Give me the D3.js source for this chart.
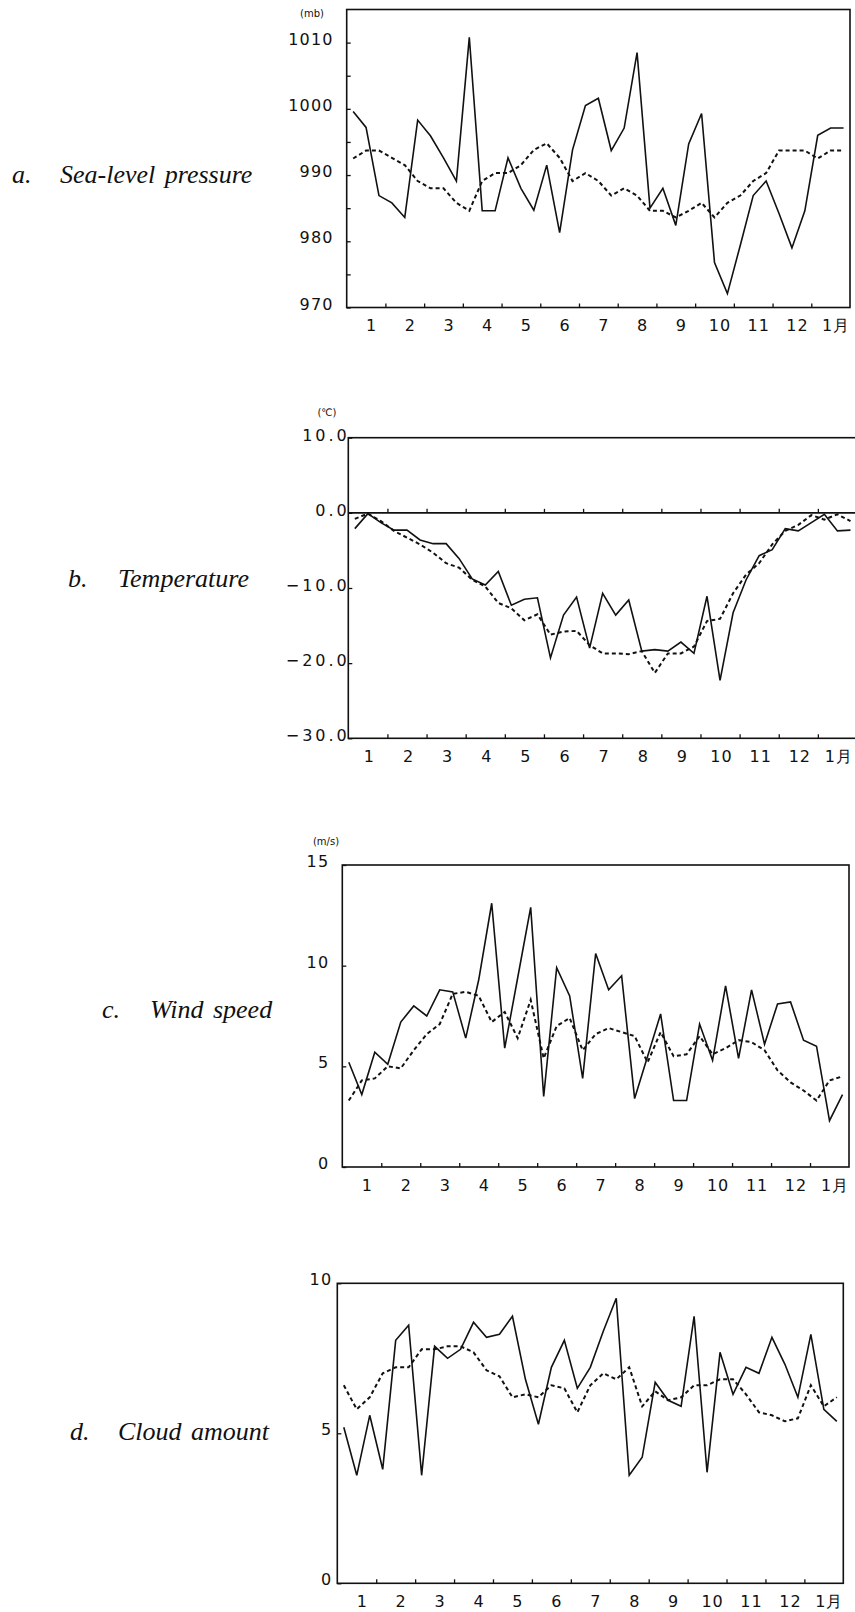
<!DOCTYPE html>
<html>
<head>
<meta charset="utf-8">
<script src="https://cdn.jsdelivr.net/npm/d3@7"></script>
<style>
  body { margin: 0; background: #fff; }
  .tick text { font-family: "DejaVu Sans", sans-serif; font-size: 16px; letter-spacing: 1.2px; fill: #111; }
  .temp .tick text { letter-spacing: 3px; }
  .title { font-family: "Liberation Serif", serif; font-style: italic; font-size: 26px; word-spacing: 3px; fill: #111; }
  .unit { font-family: "DejaVu Sans", sans-serif; font-size: 10px; fill: #111; }
</style>
</head>
<body>
<script>
// month labels on the x axis (13 months, 3 ten-day values per month)
var months = ["1", "2", "3", "4", "5", "6", "7", "8", "9", "10", "11", "12", "1月"]

// a. sea-level pressure (mb): solid = observed, dashed = normal
var pressure = [999.6, 997.2, 986.9, 985.8, 983.6, 998.3, 995.9, 992.6, 989.1, 1010.8,
  984.6, 984.6, 992.6, 988.0, 984.7, 991.5, 981.3, 993.8, 1000.5, 1001.6,
  993.7, 997.1, 1008.5, 985.0, 988.0, 982.4, 994.7, 999.3, 976.8, 972.1,
  979.4, 986.9, 989.1, 984.2, 979.0, 984.6, 996.0, 997.1, 997.1]
var pressureNormal = [992.5, 993.7, 993.7, 992.6, 991.5, 989.1, 988.0, 988.0, 985.8, 984.6,
  989.1, 990.3, 990.3, 991.5, 993.8, 994.8, 992.6, 989.1, 990.3, 989.1,
  986.9, 988.0, 986.9, 984.6, 984.6, 983.6, 984.6, 985.8, 983.6, 985.8,
  986.9, 989.1, 990.3, 993.7, 993.7, 993.7, 992.5, 993.7, 993.7]

// b. temperature (C)
var temperature = [-2.1, -0.1, -1.3, -2.3, -2.3, -3.6, -4.1, -4.1, -6.1, -8.8,
  -9.6, -7.8, -12.3, -11.5, -11.3, -19.3, -13.6, -11.2, -18.0, -10.7,
  -13.6, -11.6, -18.4, -18.2, -18.4, -17.2, -18.7, -11.1, -22.3, -13.3,
  -8.9, -5.7, -4.9, -2.1, -2.4, -1.3, -0.2, -2.4, -2.3]
var temperatureNormal = [-0.8, -0.1, -1.1, -2.4, -3.3, -4.2, -5.3, -6.7, -7.3, -8.9,
  -9.8, -12.0, -12.7, -14.3, -13.5, -16.2, -15.8, -15.7, -17.6, -18.7,
  -18.7, -18.8, -18.4, -21.3, -18.7, -18.7, -17.8, -14.4, -14.1, -10.7,
  -8.2, -6.7, -4.2, -2.4, -1.6, -0.3, -0.9, -0.2, -1.1]

// c. wind speed (m/s)
var wind = [5.2, 3.6, 5.7, 5.1, 7.2, 8.0, 7.5, 8.8, 8.7, 6.4,
  9.3, 13.1, 5.9, 9.4, 12.9, 3.5, 9.9, 8.5, 4.4, 10.6,
  8.8, 9.5, 3.4, 5.5, 7.6, 3.3, 3.3, 7.1, 5.3, 9.0,
  5.4, 8.8, 6.1, 8.1, 8.2, 6.3, 6.0, 2.3, 3.6]
var windNormal = [3.3, 4.3, 4.4, 5.0, 4.9, 5.8, 6.6, 7.1, 8.6, 8.7,
  8.5, 7.2, 7.7, 6.4, 8.3, 5.4, 7.0, 7.4, 5.8, 6.6,
  6.9, 6.7, 6.5, 5.2, 6.7, 5.5, 5.6, 6.5, 5.6, 5.9,
  6.3, 6.2, 5.8, 4.8, 4.2, 3.8, 3.3, 4.3, 4.5]

// d. cloud amount (tenths)
var cloud = [5.2, 3.6, 5.6, 3.8, 8.1, 8.6, 3.6, 7.9, 7.5, 7.8,
  8.7, 8.2, 8.3, 8.9, 6.8, 5.3, 7.2, 8.1, 6.5, 7.2,
  8.4, 9.5, 3.6, 4.2, 6.7, 6.1, 5.9, 8.9, 3.7, 7.7,
  6.3, 7.2, 7.0, 8.2, 7.3, 6.2, 8.3, 5.8, 5.4]
var cloudNormal = [6.6, 5.8, 6.2, 7.0, 7.2, 7.2, 7.8, 7.8, 7.9, 7.9,
  7.7, 7.1, 6.9, 6.2, 6.3, 6.2, 6.6, 6.5, 5.7, 6.6,
  7.0, 6.8, 7.2, 5.9, 6.4, 6.1, 6.2, 6.6, 6.6, 6.8,
  6.8, 6.3, 5.7, 5.6, 5.4, 5.5, 6.6, 5.9, 6.2]

var fmtInt = d3.format("d")
var fmtOne = d3.format(".1f")

var panels = [
  { letter: "a.", title: "Sea-level pressure", solid: pressure, dashed: pressureNormal,
    domain: [970, 1015], ticks: d3.range(970, 1015, 5), labels: [970, 980, 990, 1000, 1010], fmt: fmtInt,
    left: 346.7, right: 850, top: 9.5, bottom: 307.5, pad: 13, dy: "0.1em", shift: 5,
    unit: "(mb)", unitX: 312, unitY: 17, letterX: 12, titleX: 60, titleY: 183 },
  { letter: "b.", title: "Temperature", solid: temperature, dashed: temperatureNormal, cls: "temp",
    domain: [-30, 10], ticks: [-30, -20, -10, 0, 10], labels: [-30, -20, -10, 0, 10], fmt: fmtOne,
    left: 348.3, right: 857, top: 437.7, bottom: 738.3, pad: -1.5, dy: "0.15em", shift: 1,
    unit: "(℃)", unitX: 327, unitY: 416, letterX: 68, titleX: 118, titleY: 587, zeroLine: true },
  { letter: "c.", title: "Wind speed", solid: wind, dashed: windNormal,
    domain: [0, 15], ticks: [0, 5, 10, 15], labels: [0, 5, 10, 15], fmt: fmtInt,
    left: 342.3, right: 849, top: 865, bottom: 1167, pad: 13, dy: "0.1em", shift: 5,
    unit: "(m/s)", unitX: 326, unitY: 845, letterX: 102, titleX: 150, titleY: 1018 },
  { letter: "d.", title: "Cloud amount", solid: cloud, dashed: cloudNormal,
    domain: [0, 10], ticks: [0, 5, 10], labels: [0, 5, 10], fmt: fmtInt,
    left: 337.3, right: 843.3, top: 1283.3, bottom: 1583.3, pad: 5, dy: "0.1em", shift: 5,
    letterX: 70, titleX: 118, titleY: 1440 }
]

var svg = d3.select("body").append("svg")
  .attr("width", 855)
  .attr("height", 1612)

panels.forEach(function(p) {
  var x = d3.scaleLinear().domain([0, months.length]).range([p.left, p.right])
  var y = d3.scaleLinear().domain(p.domain).range([p.bottom, p.top])
  var g = svg.append("g").attr("class", p.cls || null)

  // frame
  g.append("rect")
    .attr("x", p.left).attr("y", p.top)
    .attr("width", p.right - p.left).attr("height", p.bottom - p.top)
    .attr("fill", "none").attr("stroke", "#111").attr("stroke-width", 1.6)

  // y axis, inward ticks
  var yAxis = d3.axisLeft(y)
    .tickValues(p.ticks)
    .tickSize(-4)
    .tickPadding(p.pad)
    .tickFormat(function(d) { return p.labels.indexOf(d) >= 0 ? p.fmt(d) : "" })
  g.append("g")
    .attr("transform", "translate(" + p.left + ",0)")
    .call(yAxis)
    .call(function(a) { a.select(".domain").remove() })
    .call(function(a) { a.selectAll("line").attr("stroke", "#111").attr("stroke-width", 1.3) })
    .selectAll("text").attr("dy", p.dy)

  // month boundary ticks
  var xTicks = d3.axisBottom(x).tickValues(d3.range(1, months.length)).tickSize(-4).tickFormat("")
  g.append("g")
    .attr("transform", "translate(0," + p.bottom + ")")
    .call(xTicks)
    .call(function(a) { a.select(".domain").remove() })
    .selectAll("line").attr("stroke", "#111").attr("stroke-width", 1.3)

  // month labels
  var xLabels = d3.axisBottom(x)
    .tickValues(d3.range(0.5, months.length, 1))
    .tickSize(0).tickPadding(12.5)
    .tickFormat(function(d, i) { return months[i] })
  g.append("g")
    .attr("transform", "translate(" + p.shift + "," + p.bottom + ")")
    .call(xLabels)
    .call(function(a) { a.select(".domain").remove() })
    .selectAll("text").style("letter-spacing", "1px")

  if (p.zeroLine) {
    g.append("line")
      .attr("x1", p.left).attr("x2", p.right)
      .attr("y1", y(0)).attr("y2", y(0))
      .attr("stroke", "#111").attr("stroke-width", 1.6)
    g.append("g")
      .attr("transform", "translate(0," + y(0) + ")")
      .call(xTicks)
      .call(function(a) { a.select(".domain").remove() })
      .selectAll("line").attr("stroke", "#111").attr("stroke-width", 1.3)
  }

  var line = d3.line()
    .x(function(d, i) { return x((i + 0.5) / 3) })
    .y(function(d) { return y(d) })

  g.append("path")
    .datum(p.dashed)
    .attr("fill", "none").attr("stroke", "#111")
    .attr("stroke-width", 2).attr("stroke-dasharray", "4,3")
    .attr("d", line)

  g.append("path")
    .datum(p.solid)
    .attr("fill", "none").attr("stroke", "#111")
    .attr("stroke-width", 1.6)
    .attr("d", line)

  if (p.unit) {
    g.append("text").attr("class", "unit")
      .attr("x", p.unitX).attr("y", p.unitY)
      .attr("text-anchor", "middle")
      .text(p.unit)
  }

  g.append("text").attr("class", "title")
    .attr("x", p.letterX).attr("y", p.titleY)
    .text(p.letter)
  g.append("text").attr("class", "title")
    .attr("x", p.titleX).attr("y", p.titleY)
    .text(p.title)
})
</script>
</body>
</html>
